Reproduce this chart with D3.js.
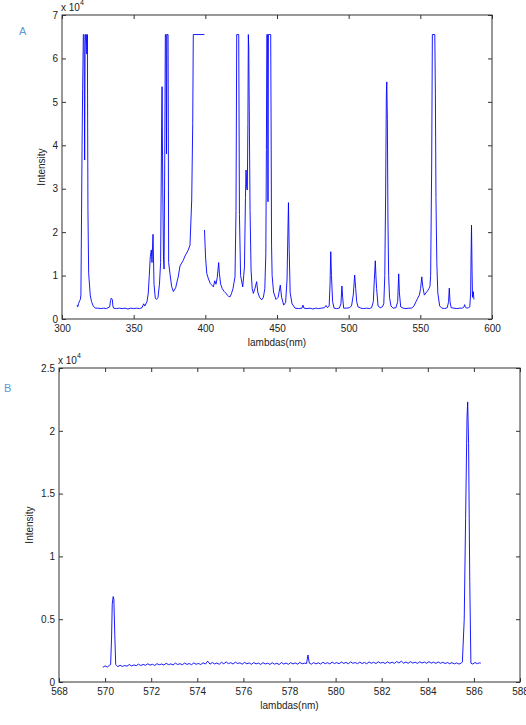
<!DOCTYPE html>
<html>
<head>
<meta charset="utf-8">
<script src="https://cdn.jsdelivr.net/npm/d3@7"></script>
<style>
  body { margin: 0; background: #fff; }
  svg { display: block; font-family: "Liberation Sans", Arial, sans-serif; }
  .tick text { fill: #222; font-size: 10px; }
  .tick line { stroke: #333; }
</style>
</head>
<body>
<div id="chart"></div>
<script>
// Panel A: full spectrum, [lambda (nm), intensity (x 10^4)]; null marks the gap in the record
const spectrumA = [
  [310.5, 0.32], [311, 0.28], [311.6, 0.36], [312.3, 0.42], [312.8, 0.45], [313.2, 0.55],
  [313.5, 1.82], [314.0, 4.0], [314.4, 5.3], [314.9, 6.55], [315.4, 6.55], [315.8, 3.66],
  [316.1, 6.1], [316.4, 6.55], [317.0, 6.55], [317.3, 6.1], [317.7, 6.55], [318.1, 2.5],
  [318.6, 1.05], [319.7, 0.55], [320.6, 0.4], [321.8, 0.3], [323.2, 0.25], [325, 0.25],
  [327, 0.24], [329, 0.25], [331, 0.24], [333.3, 0.28], [333.8, 0.42], [334.4, 0.48],
  [335.1, 0.45], [335.5, 0.3], [336, 0.25], [338, 0.24], [340, 0.25], [342, 0.24],
  [344, 0.25], [346, 0.23], [348, 0.25], [350, 0.24], [352, 0.25], [354, 0.24],
  [355.8, 0.26], [357, 0.35], [357.8, 0.3], [359.3, 0.4], [360.2, 0.6], [360.9, 1.0],
  [361.6, 1.43], [362.3, 1.59], [362.8, 1.3], [363.5, 1.95], [364.2, 0.8], [365.1, 0.48],
  [366, 0.45], [367, 0.5], [368.0, 0.8], [368.8, 1.3], [369.5, 4.4], [369.8, 5.35],
  [370.3, 3.0], [370.8, 1.43], [371.2, 1.15], [371.7, 3.8], [372.1, 6.55], [372.6, 6.55],
  [372.9, 3.8], [373.2, 6.55], [374.0, 6.55], [374.4, 1.3], [375.3, 1.05], [376.5, 0.75],
  [377.7, 0.63], [379.3, 0.72], [380.2, 0.85], [381.1, 0.97], [382.3, 1.22], [383.5, 1.29],
  [384.6, 1.35], [385.8, 1.45], [387.0, 1.52], [388.1, 1.59], [389.3, 1.7], [390.5, 2.74],
  [391.2, 4.5], [391.6, 6.55], [399.3, 6.55], [399.3, null],
  [399.4, 2.05], [400.2, 1.4], [401.0, 1.05], [402.2, 0.92], [403.4, 0.82], [404.5, 0.78],
  [405.6, 0.74], [406.6, 0.88], [407.4, 0.8], [408.3, 0.95], [409.3, 1.3], [409.8, 1.05],
  [410.7, 0.8], [411.8, 0.7], [413.0, 0.64], [414.2, 0.6], [415.3, 0.55], [416.3, 0.52],
  [417.2, 0.51], [418.2, 0.58], [419.3, 0.7], [420.7, 0.97], [421.4, 2.5], [421.9, 6.55],
  [423.3, 6.55], [423.8, 2.4], [424.6, 1.0], [426.1, 0.74], [427.3, 1.2], [428.0, 2.8],
  [428.4, 3.43], [428.9, 3.0], [429.3, 2.97], [429.7, 4.5], [430.0, 6.55], [430.3, 6.24],
  [430.6, 5.0], [431.2, 2.5], [431.9, 1.13], [432.7, 0.7], [433.5, 0.59], [434.6, 0.7],
  [435.8, 0.86], [436.6, 0.62], [437.8, 0.5], [439.3, 0.44], [440.5, 0.5], [441.5, 0.7],
  [442.2, 1.5], [442.6, 3.9], [442.9, 6.55], [443.4, 6.55], [443.7, 2.7], [444.0, 6.55],
  [445.6, 6.55], [445.9, 4.4], [446.2, 1.7], [446.6, 1.0], [447.6, 0.62], [449.3, 0.45],
  [450.8, 0.5], [452.3, 0.78], [453.2, 0.5], [454.7, 0.32], [456.0, 0.38], [457.0, 0.9],
  [457.6, 2.0], [458.0, 2.68], [458.5, 1.6], [459.2, 0.6], [460.5, 0.35], [462.6, 0.25],
  [465, 0.24], [467.4, 0.25], [468.1, 0.32], [468.8, 0.25], [471, 0.24], [473, 0.25],
  [475, 0.23], [477, 0.25], [479, 0.24], [481, 0.25], [483, 0.26], [484.2, 0.31],
  [485.2, 0.26], [486.4, 0.3], [487.0, 0.8], [487.5, 1.55], [488.0, 1.0], [488.8, 0.4],
  [489.8, 0.25], [491.5, 0.24], [493.5, 0.25], [494.6, 0.35], [495.3, 0.76], [495.8, 0.5],
  [496.5, 0.25], [498.5, 0.25], [500.5, 0.26], [502, 0.3], [503.2, 0.55], [504.2, 1.01],
  [504.9, 0.7], [505.6, 0.4], [506.5, 0.28], [508.5, 0.25], [510.5, 0.24], [512.5, 0.25],
  [514.5, 0.24], [516, 0.26], [517.2, 0.4], [517.9, 0.9], [518.6, 1.34], [519.0, 1.0],
  [519.5, 0.7], [520.5, 0.3], [522, 0.26], [523.5, 0.28], [524.5, 0.35], [525.2, 1.0],
  [525.8, 2.9], [526.3, 5.2], [526.6, 5.46], [527.0, 4.6], [527.4, 2.3], [527.9, 1.0],
  [528.5, 0.5], [529.5, 0.3], [531, 0.25], [533, 0.26], [534.2, 0.4], [534.9, 1.04],
  [535.4, 0.6], [536.3, 0.28], [538, 0.25], [540, 0.24], [542, 0.25], [544, 0.25],
  [545.5, 0.3], [547.0, 0.4], [548.2, 0.48], [549.3, 0.55], [550.2, 0.7], [551.0, 0.97],
  [551.7, 0.75], [552.8, 0.55], [553.9, 0.6], [555.1, 0.65], [556.0, 0.7], [556.7, 0.75],
  [557.2, 1.0], [557.9, 3.5], [558.4, 6.55], [560.1, 6.55], [560.5, 5.2], [560.9, 2.8],
  [561.5, 1.3], [562.2, 0.6], [563.5, 0.3], [565, 0.25], [567, 0.24], [568.8, 0.26],
  [569.7, 0.4], [570.2, 0.71], [570.7, 0.4], [571.5, 0.26], [573.5, 0.25], [575.5, 0.24],
  [577.5, 0.25], [579.5, 0.25], [580.4, 0.28], [580.9, 0.33], [581.4, 0.27], [582.5, 0.25],
  [583.6, 0.26], [584.5, 0.28], [585.1, 0.6], [585.4, 1.45], [585.7, 2.16], [586.1, 1.1],
  [586.4, 0.5], [586.9, 0.63], [587.4, 0.45]
];

// Panel B: 568-588 nm window, [lambda (nm), intensity (x 10^4)]
const spectrumB = [
  [569.9, 0.117], [570.0, 0.128], [570.1, 0.119], [570.18, 0.132], [570.24, 0.138], [570.28, 0.35],
  [570.31, 0.62], [570.35, 0.68], [570.38, 0.66], [570.42, 0.38], [570.46, 0.14], [570.55, 0.122],
  [570.65, 0.133], [570.75, 0.124], [570.85, 0.131], [570.95, 0.126], [571.05, 0.139], [571.15, 0.128],
  [571.25, 0.136], [571.35, 0.13], [571.45, 0.142], [571.55, 0.131], [571.65, 0.14], [571.75, 0.133],
  [571.85, 0.145], [571.95, 0.134], [572.05, 0.141], [572.15, 0.132], [572.25, 0.146], [572.35, 0.137],
  [572.45, 0.143], [572.55, 0.135], [572.65, 0.149], [572.75, 0.138], [572.85, 0.144], [572.95, 0.136],
  [573.05, 0.15], [573.15, 0.139], [573.25, 0.146], [573.35, 0.137], [573.45, 0.151], [573.55, 0.14],
  [573.65, 0.147], [573.75, 0.138], [573.85, 0.152], [573.95, 0.141], [574.05, 0.148], [574.15, 0.139],
  [574.25, 0.153], [574.35, 0.143], [574.45, 0.166], [574.55, 0.142], [574.65, 0.155], [574.75, 0.144],
  [574.85, 0.151], [574.95, 0.141], [575.05, 0.157], [575.15, 0.145], [575.25, 0.16], [575.35, 0.146],
  [575.45, 0.154], [575.55, 0.143], [575.65, 0.158], [575.75, 0.147], [575.85, 0.153], [575.95, 0.142],
  [576.05, 0.156], [576.15, 0.145], [576.25, 0.152], [576.35, 0.141], [576.45, 0.155], [576.55, 0.144],
  [576.65, 0.151], [576.75, 0.14], [576.85, 0.154], [576.95, 0.143], [577.05, 0.15], [577.15, 0.14],
  [577.25, 0.153], [577.35, 0.142], [577.45, 0.149], [577.55, 0.139], [577.65, 0.155], [577.75, 0.143],
  [577.85, 0.151], [577.95, 0.141], [578.05, 0.154], [578.15, 0.144], [578.25, 0.152], [578.35, 0.142],
  [578.45, 0.156], [578.55, 0.145], [578.65, 0.15], [578.74, 0.147], [578.8, 0.215], [578.86, 0.15],
  [578.95, 0.142], [579.05, 0.155], [579.15, 0.144], [579.25, 0.153], [579.35, 0.143], [579.45, 0.157],
  [579.55, 0.146], [579.65, 0.154], [579.75, 0.144], [579.85, 0.158], [579.95, 0.147], [580.05, 0.155],
  [580.15, 0.145], [580.25, 0.159], [580.35, 0.148], [580.45, 0.156], [580.55, 0.145], [580.65, 0.16],
  [580.75, 0.149], [580.85, 0.155], [580.95, 0.146], [581.05, 0.158], [581.15, 0.147], [581.25, 0.156],
  [581.35, 0.145], [581.45, 0.16], [581.55, 0.149], [581.65, 0.157], [581.75, 0.147], [581.85, 0.161],
  [581.95, 0.15], [582.05, 0.157], [582.15, 0.147], [582.25, 0.16], [582.35, 0.149], [582.45, 0.158],
  [582.55, 0.148], [582.65, 0.163], [582.75, 0.151], [582.85, 0.166], [582.95, 0.15], [583.05, 0.159],
  [583.15, 0.149], [583.25, 0.162], [583.35, 0.15], [583.45, 0.158], [583.55, 0.148], [583.65, 0.161],
  [583.75, 0.151], [583.85, 0.159], [583.95, 0.149], [584.05, 0.162], [584.15, 0.15], [584.25, 0.158],
  [584.35, 0.148], [584.45, 0.16], [584.55, 0.149], [584.65, 0.157], [584.75, 0.147], [584.85, 0.155],
  [584.95, 0.146], [585.05, 0.154], [585.15, 0.144], [585.25, 0.152], [585.35, 0.143], [585.45, 0.15],
  [585.5, 0.16], [585.58, 0.5], [585.64, 1.3], [585.7, 2.1], [585.73, 2.23], [585.77, 1.9],
  [585.82, 0.8], [585.87, 0.15], [585.95, 0.143], [586.05, 0.155], [586.15, 0.146], [586.25, 0.153],
  [586.3, 0.15]
];

const ticksXA = [300, 350, 400, 450, 500, 550, 600];
const ticksYA = [0, 1, 2, 3, 4, 5, 6, 7];
const ticksXB = [568, 570, 572, 574, 576, 578, 580, 582, 584, 586, 588];
const ticksYB = [0, 0.5, 1, 1.5, 2, 2.5];

const W = 526, H = 725;
const svg = d3.select("#chart").append("svg")
  .attr("width", W)
  .attr("height", H);

function drawPanel(p) {
  const x = d3.scaleLinear().domain(p.xDomain).range([p.left, p.right]);
  const y = d3.scaleLinear().domain(p.yDomain).range([p.bottom, p.top]);
  const g = svg.append("g");

  const line = d3.line()
    .defined(d => d[1] !== null)
    .x(d => x(d[0]))
    .y(d => y(d[1]));

  g.append("path")
    .datum(p.data)
    .attr("fill", "none")
    .attr("stroke", "#0000ff")
    .attr("stroke-width", 0.9)
    .attr("stroke-linejoin", "round")
    .attr("d", line);

  // MATLAB style box with inward ticks on every side
  const fmt = d3.format("~g");
  const bottomAxis = g.append("g").attr("transform", `translate(0,${p.bottom})`)
    .call(d3.axisBottom(x).tickValues(p.xTicks).tickFormat(fmt).tickSizeInner(-4).tickSizeOuter(0).tickPadding(5));
  g.append("g").attr("transform", `translate(${p.left},0)`)
    .call(d3.axisLeft(y).tickValues(p.yTicks).tickFormat(fmt).tickSizeInner(-4).tickSizeOuter(0).tickPadding(4));
  g.append("g").attr("transform", `translate(0,${p.top})`)
    .call(d3.axisTop(x).tickValues(p.xTicks).tickFormat("").tickSizeInner(-4).tickSizeOuter(0));
  g.append("g").attr("transform", `translate(${p.right},0)`)
    .call(d3.axisRight(y).tickValues(p.yTicks).tickFormat("").tickSizeInner(-4).tickSizeOuter(0));
  g.selectAll(".domain").remove();
  bottomAxis.selectAll("text").attr("dy", "0.75em");

  g.append("rect")
    .attr("x", p.left).attr("y", p.top)
    .attr("width", p.right - p.left).attr("height", p.bottom - p.top)
    .attr("fill", "none").attr("stroke", "#333").attr("stroke-width", 1);

  // exponent marker
  g.append("text").attr("x", p.left - 1).attr("y", p.top - 4)
    .attr("font-size", 10).attr("fill", "#222").text("x 10");
  g.append("text").attr("x", p.left + 18).attr("y", p.top - 10)
    .attr("font-size", 7).attr("fill", "#222").text("4");

  g.append("text")
    .attr("x", (p.left + p.right) / 2).attr("y", p.bottom + 27)
    .attr("text-anchor", "middle").attr("font-size", 10).attr("fill", "#222")
    .text("lambdas(nm)");

  g.append("text")
    .attr("transform", `translate(${p.yLabelX},${(p.top + p.bottom) / 2}) rotate(-90)`)
    .attr("text-anchor", "middle").attr("font-size", 10).attr("fill", "#222")
    .text("Intensity");

  svg.append("text")
    .attr("x", p.tag[0]).attr("y", p.tag[1])
    .attr("font-size", 11).attr("fill", "#5b9bd5")
    .text(p.tagText);
}

drawPanel({
  data: spectrumA, xDomain: [300, 600], yDomain: [0, 7],
  xTicks: ticksXA, yTicks: ticksYA,
  left: 62, right: 492, top: 15, bottom: 319,
  yLabelX: 45, tag: [19, 35], tagText: "A"
});

drawPanel({
  data: spectrumB, xDomain: [568, 588], yDomain: [0, 2.5],
  xTicks: ticksXB, yTicks: ticksYB,
  left: 59, right: 520, top: 368, bottom: 682,
  yLabelX: 33, tag: [4, 392], tagText: "B"
});
</script>
</body>
</html>
